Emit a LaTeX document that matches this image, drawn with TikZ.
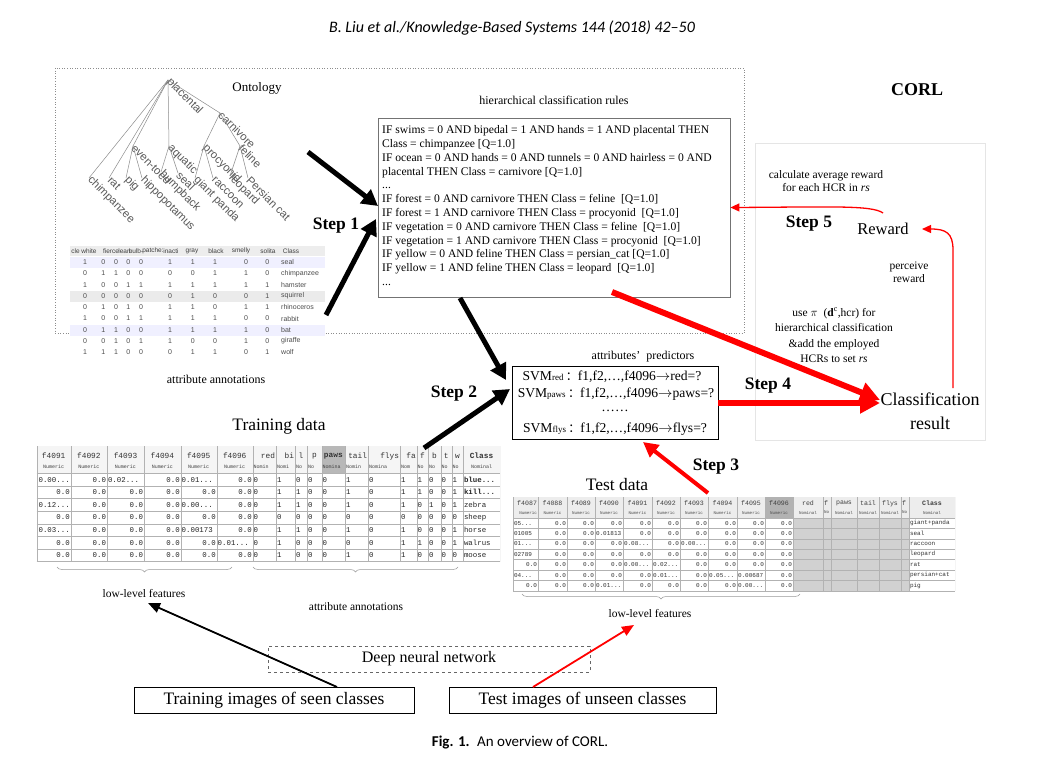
\documentclass[tikz,border=0pt]{standalone}
\usepackage{fontspec}
\setmainfont{Liberation Serif}
\newfontfamily\hdrfont{Carlito}
\newfontfamily\monofnt{Liberation Mono}
\newfontfamily\arialfnt{Liberation Sans}
\newfontfamily\cjkfnt{Noto Sans CJK SC}
\usetikzlibrary{arrows.meta,decorations.pathreplacing}
\newcommand\fsz[1]{\fontsize{#1}{#1}\selectfont}
\newcommand\dd{...}
\def\TB{{36.7,70.7,107,144,180.7,216.7,252.7,276,295,307,321.7,345,368,400,416.7,428,440.7,451.7,463,500}}
\def\TT{{513,538,567,595,623,652,680,708,737,765,793,823,831,857,879,901,909,955}}
\def\AX{{85,103.3,116,128.3,141,170,192.7,215,246,267.3}}
% generic table row: #1 array, #2 style, #3 y, #4 list of align/text
\newcommand\tabrow[4]{%
  \foreach \al/\tx [count=\c from 0] in {#4} {%
    \pgfmathsetmacro\xl{#1[\c]}%
    \pgfmathsetmacro\xr{#1[\c+1]}%
    \if\al l \node[#2,anchor=west] at (\xl+0.8,#3) {\tx};\fi
    \if\al r \node[#2,anchor=east] at (\xr-0.8,#3) {\tx};\fi
    \if\al c \node[#2] at ({(\xl+\xr)/2},#3) {\tx};\fi
  }}
\newcommand\arow[3]{%
  \foreach \v [count=\c from 0] in {#3} {%
    \pgfmathsetmacro\xx{\AX[\c]}%
    \node[aval] at (\xx,{262+11.3*#1}) {\v};}
  \node[aval,anchor=west] at (281,{262+11.3*#1}) {#2};}
\begin{document}
\begin{tikzpicture}[x=1pt,y=-1pt,
  ont/.style={font=\arialfnt\fsz{11.3}, text=black!65, rotate=-45, anchor=west, inner sep=0.6pt},
  oedge/.style={draw=black!45, line width=0.5pt},
  aval/.style={font=\arialfnt\fsz{7}, text=black!70, inner sep=0},
  ahead/.style={font=\arialfnt\fsz{6.5}, text=black!75, inner sep=0},
  tval/.style={font=\monofnt\fsz{7.4}, text=black!85, inner sep=0},
  thead/.style={font=\monofnt\fsz{7.8}, text=black!80, inner sep=0},
  tsub/.style={font=\monofnt\fsz{5}, text=black!75, inner sep=0},
  sval/.style={font=\monofnt\fsz{6}, text=black!80, inner sep=0},
  shead/.style={font=\monofnt\fsz{6.6}, text=black!75, inner sep=0},
  ssub/.style={font=\monofnt\fsz{4.2}, text=black!70, inner sep=0},
  gridl/.style={draw=black!30, line width=0.4pt},
  steplbl/.style={font=\bfseries\fsz{17.5}, inner sep=0},
  lbl/.style={font=\fsz{12}, inner sep=0},
  bigl/.style={font=\fsz{17.5}, inner sep=0},
  barrow/.style={line width=5pt, -{Triangle[length=16pt,width=17pt]}},
  rthick/.style={draw=red, line width=6pt, -{Triangle[length=20pt,width=20pt]}},
  rmid/.style={draw=red, line width=4pt, -{Triangle[length=15pt,width=15pt]}},
  rthin/.style={draw=red, line width=1.3pt, -{Triangle[length=9pt,width=8pt]}},
  bthin/.style={draw=black, line width=1.8pt, -{Triangle[length=12pt,width=10pt]}},
  brc/.style={draw=black!40, line width=0.5pt, decorate, decoration={brace, amplitude=5pt}}
]
\useasboundingbox[fill=white] (0,0) rectangle (1044,765);

% header and caption
\node[font=\hdrfont\itshape\fsz{16}] (hdr) at (512,28) {B. Liu et al./Knowledge-Based Systems 144 (2018) 42–50};
\node[font=\hdrfont\fsz{15}] (cap) at (520,743) {\textbf{Fig. 1.}\enspace An overview of CORL.};

% frames
\draw[black!45, dotted, line width=0.6pt] (55,68) rectangle (744,333);
\draw[black!10, line width=0.8pt] (755,143) rectangle (985,440);
\node[font=\bfseries\fsz{18}] (corl) at (917,90) {CORL};

% ---------------- ontology
\node[font=\fsz{13}] (ontt) at (257,88) {Ontology};
\node[ont] (placental) at (168,80) {placental};
\node[ont] (carnivore) at (220,113) {carnivore};
\node[ont] (feline) at (240,146) {feline};
\node[ont] (procyonid) at (204,146) {procyonid};
\node[ont] (aquatic) at (169,146) {aquatic};
\node[ont] (eventoed) at (133,146) {even-toed};
\node[ont] (chimpanzee) at (89,178) {chimpanzee};
\node[ont] (rat) at (109,178) {rat};
\node[ont] (pig) at (126,178) {pig};
\node[ont] (hippo) at (142,178) {hippopotamus};
\node[ont] (humpback) at (161,172) {humpback};
\node[ont] (seal) at (178,173) {seal};
\node[ont] (panda) at (195,178) {giant panda};
\node[ont] (raccoon) at (213,178) {raccoon};
\node[ont] (leopard) at (230,176) {leopard};
\node[ont] (persian) at (248,178) {Persian cat};
\foreach \a/\b in {placental/chimpanzee, placental/rat, placental/eventoed, placental/aquatic, placental/carnivore,
  eventoed/pig, eventoed/hippo, aquatic/humpback, aquatic/seal, carnivore/procyonid, carnivore/feline,
  procyonid/panda, procyonid/raccoon, feline/leopard, feline/persian}
  \draw[oedge] (\a.west) -- (\b.west);

% ---------------- attribute table (top-left)
\fill[black!7] (70,246) rectangle (325,256);
\fill[blue!6] (70,257) rectangle (325,267.5);
\fill[black!8] (70,290.5) rectangle (325,301.5);
\fill[blue!6] (70,324.5) rectangle (325,335.5);
\foreach \t/\x in {cle/75.5, white/89, fierce/111, lean/124.5, bulb-/136, patche:/153, inacti/171, gray/192, black/216, smelly/241, solita/268, Class/291}
  \node[ahead] at (\x,251) {\t};
\arow{0}{seal}{1,0,0,0,0,1,1,1,0,0}
\arow{1}{chimpanzee}{0,1,1,0,0,0,0,1,1,0}
\arow{2}{hamster}{1,0,0,1,1,1,1,1,1,1}
\arow{3}{squirrel}{0,0,0,0,0,0,1,0,0,1}
\arow{4}{rhinoceros}{0,1,0,1,0,1,1,0,1,1}
\arow{5}{rabbit}{1,0,0,1,1,1,1,1,0,0}
\arow{6}{bat}{0,1,1,0,0,1,1,1,1,0}
\arow{7}{giraffe}{0,0,1,0,1,1,0,0,1,0}
\arow{8}{wolf}{1,1,1,0,0,0,1,1,0,1}
\node[lbl] (attann1) at (216,379) {attribute annotations};

% ---------------- HCR box
\node[lbl] (hcrtitle) at (554,100) {hierarchical classification rules};
\node[draw=black!55, line width=0.8pt, minimum width=352pt, minimum height=179pt, inner sep=0] (hcr) at (554,207.5) {};
\node[anchor=north west, align=left, inner sep=0, font=\fontsize{11.6}{13.8}\selectfont] (hcrtext) at (382,125.5) {%
IF swims = 0 AND bipedal = 1 AND hands = 1 AND placental THEN\\
Class = chimpanzee [Q=1.0]\\
IF ocean = 0 AND hands = 0 AND tunnels = 0 AND hairless = 0 AND\\
placental THEN Class = carnivore [Q=1.0]\\
...\\
IF forest = 0 AND carnivore THEN Class = feline\ \ [Q=1.0]\\
IF forest = 1 AND carnivore THEN Class = procyonid\ \ [Q=1.0]\\
IF vegetation = 0 AND carnivore THEN Class = feline\ \ [Q=1.0]\\
IF vegetation = 1 AND carnivore THEN Class = procyonid\ \ [Q=1.0]\\
IF yellow = 0 AND feline THEN Class = persian\_cat [Q=1.0]\\
IF yellow = 1 AND feline THEN Class = leopard\ \ [Q=1.0]\\
...};

% ---------------- SVM box
\node[lbl] (svmtitle) at (643,357) {attributes'\ \ predictors};
\node[draw=black, line width=0.9pt, minimum width=206pt, minimum height=73pt, inner sep=0] (svm) at (615,402.5) {};
\node[font=\fsz{13.6}, inner sep=0] (svm1) at (612,377) {SVM{\fsz{9}red}\,{\cjkfnt\fsz{12}：}f1,f2,…,f4096$\rightarrow$red=?};
\node[font=\fsz{13.6}, inner sep=0] (svm2) at (616,394) {SVM{\fsz{9}paws}\,{\cjkfnt\fsz{12}：}f1,f2,…,f4096$\rightarrow$paws=?};
\node[font=\fsz{13.6}, inner sep=0] (svm3) at (615,411) {……};
\node[font=\fsz{13.6}, inner sep=0] (svm4) at (615,429) {SVM{\fsz{9}flys}\,{\cjkfnt\fsz{12}：}f1,f2,…,f4096$\rightarrow$flys=?};

% ---------------- right side texts
\node[font=\fsz{11.5}, align=center, inner sep=0] (calc) at (826,181) {calculate average reward\\[1pt]for each HCR in \textit{rs}};
\node[font=\fsz{16.5}, inner sep=0] (reward) at (883,229) {Reward};
\node[font=\fsz{11.5}, align=center, inner sep=0] (perc) at (909,272) {perceive\\[1pt]reward};
\node[font=\fontsize{11.5}{15.6}\selectfont, align=center, inner sep=0] (use) at (834,335.5) {use $\pi$\ \ (\textbf{d}$^{\mathrm{c}}$,hcr) for\\hierarchical classification\\\&add the employed\\HCRs to set \textit{rs}};
\node[font=\fontsize{18}{24}\selectfont, align=center, inner sep=0] (cls) at (930,411) {Classification\\result};

% ---------------- step labels
\node[steplbl] (st1) at (336,226) {Step 1};
\node[steplbl] (st2) at (454,394) {Step 2};
\node[steplbl] (st3) at (716,467) {Step 3};
\node[steplbl] (st4) at (768,386) {Step 4};
\node[steplbl] (st5) at (809,224) {Step 5};

% ---------------- training data table
\node[bigl] (trtitle) at (279,426) {Training data};
\begin{scope}
\clip (36.7,446) rectangle (500,562);
\fill[black!4] (36.7,446) rectangle (500,473.3);
\fill[black!28] (321.7,446) rectangle (345,473.3);
\foreach \i in {0,...,19} {\pgfmathsetmacro\xx{\TB[\i]}\draw[gridl] (\xx,446) -- (\xx,562);}
\foreach \r in {0,...,7} {\draw[gridl] (36.7,473.3+12.6*\r) -- (500,473.3+12.6*\r);}
\tabrow{\TB}{thead}{456}{c/f4091,c/f4092,c/f4093,c/f4094,c/f4095,c/f4096,r/red,r/bi,c/l,c/p,c/\textbf{paws},r/tail,r/flys,r/fa,c/f,c/b,c/t,c/w,c/\textbf{Class}}
\tabrow{\TB}{tsub}{467}{c/Numeric,c/Numeric,c/Numeric,c/Numeric,c/Numeric,c/Numeric,l/Nomin,l/Nomi,l/No,l/No,l/Nomina,l/Nomin,l/Nomina,l/Nom,l/No,l/No,l/No,l/No,c/Nominal}
\tabrow{\TB}{tval}{479.6}{r/0.00\dd,r/0.0,l/0.02\dd,r/0.0,l/0.01\dd,r/0.0,l/0,l/1,l/0,l/0,l/0,l/1,l/0,l/1,l/1,l/0,l/0,l/1,l/\textbf{blue\dd}}
\tabrow{\TB}{tval}{492.2}{r/0.0,r/0.0,r/0.0,r/0.0,r/0.0,r/0.0,l/0,l/1,l/1,l/0,l/0,l/1,l/0,l/1,l/1,l/0,l/0,l/1,l/\textbf{kill\dd}}
\tabrow{\TB}{tval}{504.8}{r/0.12\dd,r/0.0,r/0.0,r/0.0,l/0.00\dd,r/0.0,l/0,l/1,l/1,l/0,l/0,l/1,l/0,l/1,l/0,l/1,l/0,l/1,l/zebra}
\tabrow{\TB}{tval}{517.4}{r/0.0,r/0.0,r/0.0,r/0.0,r/0.0,r/0.0,l/0,l/0,l/0,l/0,l/0,l/0,l/0,l/0,l/0,l/0,l/0,l/0,l/sheep}
\tabrow{\TB}{tval}{530.0}{r/0.03\dd,r/0.0,r/0.0,r/0.0,l/0.00173,r/0.0,l/0,l/1,l/1,l/0,l/0,l/1,l/0,l/1,l/0,l/0,l/0,l/1,l/horse}
\tabrow{\TB}{tval}{542.6}{r/0.0,r/0.0,r/0.0,r/0.0,r/0.0,l/0.01\dd,l/0,l/1,l/0,l/0,l/0,l/0,l/0,l/1,l/1,l/0,l/0,l/1,l/walrus}
\tabrow{\TB}{tval}{555.2}{r/0.0,r/0.0,r/0.0,r/0.0,r/0.0,r/0.0,l/0,l/1,l/0,l/0,l/0,l/1,l/0,l/1,l/0,l/0,l/0,l/0,l/moose}
\end{scope}
\draw[brc] (232,567) -- (57,567);
\draw[brc] (458,567) -- (253,567);
\node[font=\fsz{11.5}, inner sep=0] (llf1) at (144,594) {low-level features};
\node[font=\fsz{11.5}, inner sep=0] (attann2) at (356,607) {attribute annotations};

% ---------------- test data table
\node[bigl] (tetitle) at (617,485) {Test data};
\begin{scope}
\clip (513,497) rectangle (955,591);
\fill[black!7] (513,497) rectangle (955,518);
\fill[black!30] (765,497) rectangle (793,518);
\fill[black!18] (793,518) rectangle (909,591);
\foreach \i in {0,...,17} {\pgfmathsetmacro\xx{\TT[\i]}\draw[gridl] (\xx,497) -- (\xx,591);}
\foreach \r in {0,...,7} {\draw[gridl] (513,518+10.4*\r) -- (955,518+10.4*\r);}
\tabrow{\TT}{shead}{503.5}{r/f4087,c/f4088,c/f4089,c/f4090,c/f4091,c/f4092,c/f4093,c/f4094,c/f4095,c/f4096,c/red,l/f,c/paws,c/tail,c/flys,l/f,c/\textbf{Class}}
\tabrow{\TT}{ssub}{512.5}{r/Numeric,c/Numeric,c/Numeric,c/Numeric,c/Numeric,c/Numeric,c/Numeric,c/Numeric,c/Numeric,c/Numeric,c/Nominal,l/No,c/Nominal,c/Nominal,c/Nominal,l/No,c/Nominal}
\tabrow{\TT}{sval}{523.2}{l/05\dd,r/0.0,r/0.0,r/0.0,r/0.0,r/0.0,r/0.0,r/0.0,r/0.0,r/0.0,c/{},c/{},c/{},c/{},c/{},c/{},l/giant+panda}
\tabrow{\TT}{sval}{533.6}{l/01005,r/0.0,r/0.0,l/0.01813,r/0.0,r/0.0,r/0.0,r/0.0,r/0.0,r/0.0,c/{},c/{},c/{},c/{},c/{},c/{},l/seal}
\tabrow{\TT}{sval}{544.0}{l/01\dd,r/0.0,r/0.0,r/0.0,l/0.08\dd,r/0.0,l/0.00\dd,r/0.0,r/0.0,r/0.0,c/{},c/{},c/{},c/{},c/{},c/{},l/raccoon}
\tabrow{\TT}{sval}{554.4}{l/02789,r/0.0,r/0.0,r/0.0,r/0.0,r/0.0,r/0.0,r/0.0,r/0.0,r/0.0,c/{},c/{},c/{},c/{},c/{},c/{},l/leopard}
\tabrow{\TT}{sval}{564.8}{r/0.0,r/0.0,r/0.0,r/0.0,l/0.00\dd,l/0.02\dd,r/0.0,r/0.0,r/0.0,r/0.0,c/{},c/{},c/{},c/{},c/{},c/{},l/rat}
\tabrow{\TT}{sval}{575.2}{l/04\dd,r/0.0,r/0.0,r/0.0,r/0.0,l/0.01\dd,r/0.0,l/0.05\dd,l/0.00687,r/0.0,c/{},c/{},c/{},c/{},c/{},c/{},l/persian+cat}
\tabrow{\TT}{sval}{585.6}{r/0.0,r/0.0,r/0.0,l/0.01\dd,r/0.0,r/0.0,r/0.0,r/0.0,l/0.00\dd,r/0.0,c/{},c/{},c/{},c/{},c/{},c/{},l/pig}
\end{scope}
\draw[brc] (800,594) -- (522,594);
\node[font=\fsz{11.5}, inner sep=0] (llf2) at (650,614) {low-level features};

% ---------------- bottom boxes
\node[draw=black!60, dashed, line width=0.9pt, minimum width=322pt, minimum height=26pt, font=\fsz{16}] (dnn) at (429,659) {Deep neural network};
\node[draw=black, line width=0.9pt, minimum width=280pt, minimum height=26pt, font=\fsz{17.5}, inner sep=0] (trimg) at (274,700) {Training images of seen classes};
\node[draw=black, line width=0.9pt, minimum width=267pt, minimum height=26pt, font=\fsz{17.5}, inner sep=0] (teimg) at (582.5,700) {Test images of unseen classes};

% ---------------- connector end points
\coordinate (a1s) at (308,152);  \coordinate (a1e) at (378,206);
\coordinate (a2s) at (326,315);  \coordinate (a2e) at (376,219);
\coordinate (a3s) at (460,298);  \coordinate (a3e) at (506,380);
\coordinate (a4s) at (424,448);  \coordinate (a4e) at (510,389);
\coordinate (r1s) at (612,292);  \coordinate (r1e) at (880,400);
\coordinate (r2s) at (718,403);  \coordinate (r2e) at (880,403);
\coordinate (r3s) at (708,493);  \coordinate (r3e) at (643,442);
\coordinate (rws) at (883,213);
\coordinate (cls1) at (953,388); \coordinate (rwe) at (922,229);
\coordinate (tis) at (337,687);  \coordinate (tie) at (148,603);
\coordinate (tes) at (533,687);  \coordinate (tee) at (634,625);

% black thick arrows
\draw[barrow] (a1s) -- (a1e);
\draw[barrow] (a2s) -- (a2e);
\draw[barrow] (a3s) -- (a3e);
\draw[barrow] (a4s) -- (a4e);
% red arrows
\draw[rthick] (r1s) -- (r1e);
\draw[rthick] (r2s) -- (r2e);
\draw[rmid] (r3s) -- (r3e);
\draw[rthin] (rws) .. controls (872,205) and (830,207) .. (hcr.east);
\draw[rthin] (cls1) -- (953,250) .. controls (953,233) and (946,229) .. (rwe);
% bottom arrows
\draw[bthin] (tis) -- (tie);
\draw[bthin, draw=red] (tes) -- (tee);
\end{tikzpicture}
\end{document}
